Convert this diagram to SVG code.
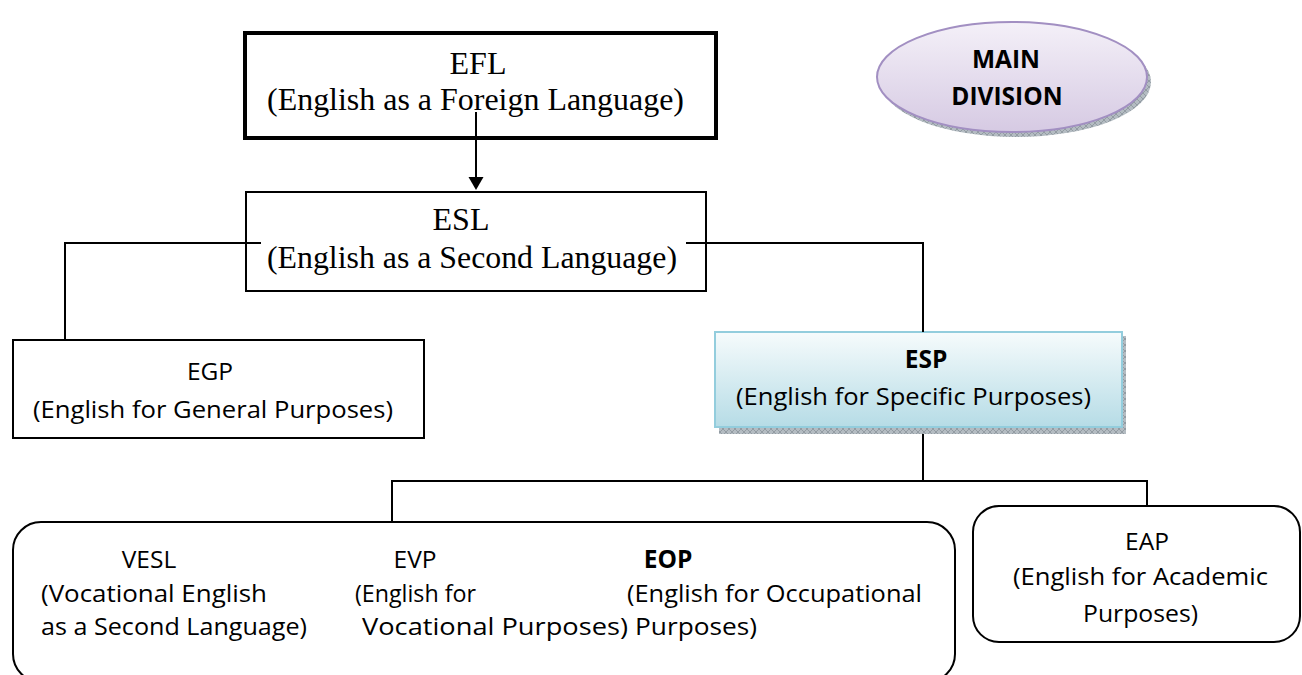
<svg xmlns="http://www.w3.org/2000/svg" width="1302" height="675" viewBox="0 0 1302 675">
<style>
.box{fill:#fff;stroke:#000;stroke-width:2}
.serif{font-family:"Liberation Serif","Times New Roman",serif;font-size:32px;fill:#000}
.sans{font-family:"Open Sans","Liberation Sans",sans-serif;font-size:24.5px;fill:#000}
.b{font-weight:bold}
.mid{text-anchor:middle}
.conn{fill:none;stroke:#000;stroke-width:2}
</style>
<defs>
<pattern id="hatch" width="6" height="6" patternUnits="userSpaceOnUse">
<rect width="6" height="6" fill="#b4bcc2"/>
<path d="M0,0 L6,6 M6,0 L0,6" stroke="#8a949b" stroke-width="0.8"/>
</pattern>
<linearGradient id="espGrad" x1="0" y1="0" x2="0" y2="1">
<stop offset="0" stop-color="#f6fbfc"/>
<stop offset="1" stop-color="#b6dce6"/>
</linearGradient>
<linearGradient id="ellGrad" x1="0" y1="0" x2="0" y2="1">
<stop offset="0" stop-color="#f4f0f8"/>
<stop offset="1" stop-color="#d6cae3"/>
</linearGradient>
</defs>

<g id="efl">
<rect x="245" y="33" width="471" height="105" fill="#fff" stroke="#000" stroke-width="4"/>
<text class="serif mid" x="478" y="74">EFL</text>
<text class="serif" x="267" y="110" textLength="417" lengthAdjust="spacingAndGlyphs">(English as a Foreign Language)</text>
</g>

<g id="esl">
<rect class="box" x="246" y="192" width="460" height="99"/>
<text class="serif mid" x="461" y="230">ESL</text>
<text class="serif" x="267" y="268" textLength="410" lengthAdjust="spacingAndGlyphs">(English as a Second Language)</text>
</g>

<g id="egp">
<rect class="box" x="13" y="340" width="411" height="98"/>
<text class="sans mid" x="210" y="380">EGP</text>
<text class="sans" x="33" y="418" textLength="360" lengthAdjust="spacingAndGlyphs">(English for General Purposes)</text>
</g>

<g id="esp">
<rect x="719" y="336" width="407" height="98" fill="url(#hatch)"/>
<rect x="715" y="332" width="407" height="95" fill="url(#espGrad)" stroke="#93cddd" stroke-width="2"/>
<text class="sans mid b" x="926" y="368">ESP</text>
<text class="sans" x="736" y="405" textLength="355" lengthAdjust="spacingAndGlyphs">(English for Specific Purposes)</text>
</g>

<g id="main-division">
<ellipse cx="1016" cy="82" rx="135" ry="55" fill="url(#hatch)"/>
<ellipse cx="1012" cy="77" rx="135" ry="55" fill="url(#ellGrad)" stroke="#a28fc2" stroke-width="2"/>
<text class="sans mid b" x="1006" y="68">MAIN</text>
<text class="sans mid b" x="1007" y="105">DIVISION</text>
</g>

<g id="eop-group">
<rect class="box" x="13" y="522" width="942" height="160" rx="28" ry="28"/>
<g id="vesl">
<text class="sans mid" x="149" y="568">VESL</text>
<text class="sans" x="41" y="602" textLength="226" lengthAdjust="spacingAndGlyphs">(Vocational English</text>
<text class="sans" x="41" y="635" textLength="266" lengthAdjust="spacingAndGlyphs">as a Second Language)</text>
</g>
<g id="evp">
<text class="sans mid" x="415" y="568">EVP</text>
<text class="sans" x="355" y="602" textLength="121" lengthAdjust="spacingAndGlyphs">(English for</text>
<text class="sans" x="362" y="635" textLength="266" lengthAdjust="spacingAndGlyphs">Vocational Purposes)</text>
</g>
<g id="eop">
<text class="sans mid b" x="668" y="568">EOP</text>
<text class="sans" x="627" y="602" textLength="295" lengthAdjust="spacingAndGlyphs">(English for Occupational</text>
<text class="sans" x="635" y="635" textLength="122" lengthAdjust="spacingAndGlyphs">Purposes)</text>
</g>
</g>

<g id="eap">
<rect class="box" x="973" y="506" width="327" height="136" rx="26" ry="26"/>
<text class="sans mid" x="1147" y="550">EAP</text>
<text class="sans" x="1013" y="585" textLength="255" lengthAdjust="spacingAndGlyphs">(English for Academic</text>
<text class="sans" x="1083" y="622" textLength="115" lengthAdjust="spacingAndGlyphs">Purposes)</text>
</g>

<g id="connectors">
<line x1="476" y1="112" x2="476" y2="178" stroke="#000" stroke-width="2"/>
<path d="M468.5,177 L483.5,177 L476,190 Z" fill="#000"/>
<path class="conn" d="M261,243 H65 V340"/>
<path class="conn" d="M686,243 H923 V332"/>
<path class="conn" d="M923,434 V481"/>
<path class="conn" d="M392,522 V481 H1147 V506"/>
</g>
</svg>
